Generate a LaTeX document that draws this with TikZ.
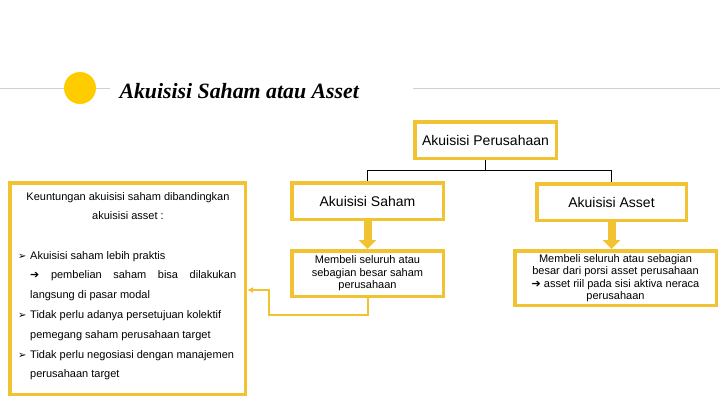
\documentclass[tikz,border=0pt]{standalone}
\usepackage{fontspec}
\setmainfont{Liberation Sans}
\newfontfamily\judul{Liberation Serif}
\newfontfamily\simbol{DejaVu Sans}
\usetikzlibrary{arrows.meta,positioning}
\definecolor{emas}{RGB}{241,195,50}
\definecolor{kuning}{RGB}{255,204,0}
\definecolor{abu}{RGB}{208,208,208}

\begin{document}
\begin{tikzpicture}[x=1pt,y=-1pt,node distance=28pt]
\tikzstyle{K}=[draw=emas,line width=3.5pt,fill=white,align=center,inner sep=2pt]
\tikzstyle{J}=[font=\fontsize{14}{16}\selectfont]
\tikzstyle{T}=[font=\fontsize{11}{12.5}\selectfont]
\tikzstyle{L}=[font=\fontsize{11}{19.8}\selectfont,inner sep=0pt]
\useasboundingbox (0,0) rectangle (720,405);
% judul
\draw[abu,line width=1pt] (0,88) -- (110,88);
\draw[abu,line width=1pt] (413,88) -- (720,88);
\node[circle,fill=kuning,minimum size=32pt,inner sep=0pt] (bulat) at (80,88) {};
\node[anchor=base west,font=\judul\bfseries\itshape\fontsize{21.8}{24}\selectfont] (judul) at (116,98) {Akuisisi Saham atau Asset};

% bagan
\node[K,J,minimum width=141.5pt,minimum height=36.5pt] (akuisisi) at (485.5,140) {Akuisisi Perusahaan};
\node[K,J,minimum width=151.5pt,minimum height=36.5pt] (saham) at (367.5,201) {Akuisisi Saham};
\node[K,J,minimum width=149.5pt,minimum height=36.5pt] (asset) at (611.5,202) {Akuisisi Asset};
\node[K,T,minimum width=151.5pt,minimum height=45.5pt,below=28pt of saham] (belisaham) {Membeli seluruh atau\\sebagian besar saham\\perusahaan};
\node[K,T,minimum width=201.5pt,minimum height=54.5pt] (beliasset) at (615.5,278)
  {Membeli seluruh atau sebagian\\besar dari porsi asset perusahaan\\{\simbol ➔} asset riil pada sisi aktiva neraca\\perusahaan};
\draw (akuisisi.south) -- ++(0,10) coordinate (cabang);
\draw (cabang) -| (saham);
\draw (cabang) -| (asset);
\draw[emas,line width=8pt,-{Triangle[width=17pt,length=9pt]}] (saham) -- (belisaham);
\draw[emas,line width=8pt,-{Triangle[width=17pt,length=9pt]}] (asset.south) -- (asset.south |- beliasset.north);

% keuntungan
\node[K,minimum width=235.5pt,minimum height=211.5pt] (keuntungan) at (127.5,288.5) {};
\node[L,align=center] (pembuka) at (128,206) {Keuntungan akuisisi saham dibandingkan\\akuisisi asset :};
\node[L,align=left,anchor=north west] (daftar) at (18,251) {%
\makebox[12pt][l]{\simbol\fontsize{10}{10}\selectfont ➢}Akuisisi saham lebih praktis\\
\hspace*{12pt}\makebox[206pt][s]{{\simbol ➔} pembelian saham bisa dilakukan}\\
\hspace*{12pt}langsung di pasar modal\\
\makebox[12pt][l]{\simbol\fontsize{10}{10}\selectfont ➢}Tidak perlu adanya persetujuan kolektif\\
\hspace*{12pt}pemegang saham perusahaan target\\
\makebox[12pt][l]{\simbol\fontsize{10}{10}\selectfont ➢}Tidak perlu negosiasi dengan manajemen\\
\hspace*{12pt}perusahaan target};
\draw[emas,line width=2pt,-{Latex[length=6pt,width=6pt]}] (belisaham.south) |- (269,315) -- (269,290) -- (keuntungan.east |- 0,290);
\end{tikzpicture}
\end{document}
